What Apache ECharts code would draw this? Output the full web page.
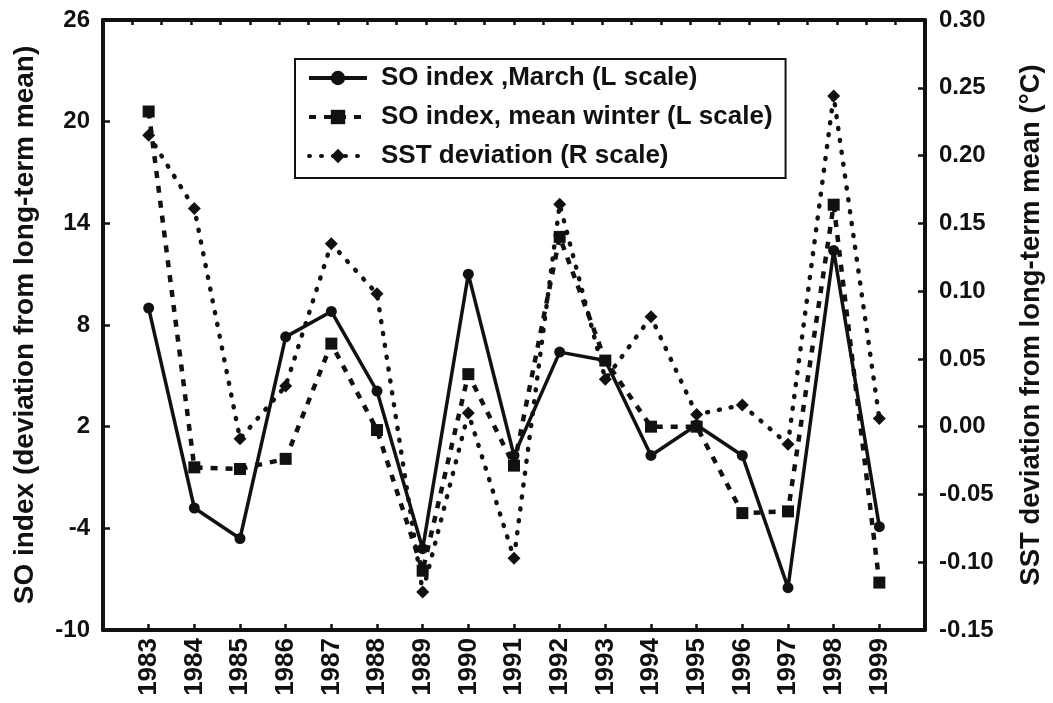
<!DOCTYPE html>
<html>
<head>
<meta charset="utf-8">
<script src="https://cdn.jsdelivr.net/npm/echarts@6/dist/echarts.min.js"></script>
<style>
  html, body { margin: 0; padding: 0; background: #fff; }
  #chart { width: 1053px; height: 703px; }
</style>
</head>
<body>
<div id="chart"></div>
<script>
// values
var years = [1983, 1984, 1985, 1986, 1987, 1988, 1989, 1990, 1991, 1992, 1993, 1994, 1995, 1996, 1997, 1998, 1999]
var soiMarch = [9.0, -2.8, -4.6, 7.3, 8.8, 4.1, -5.2, 11.0, 0.3, 6.4, 5.9, 0.3, 2.1, 0.3, -7.5, 12.4, -3.9]
var soiWinter = [20.6, -0.4, -0.5, 0.1, 6.9, 1.8, -6.5, 5.1, -0.3, 13.2, 5.9, 2.0, 2.0, -3.1, -3.0, 15.1, -7.2]
var sstDev = [0.215, 0.161, -0.009, 0.030, 0.135, 0.098, -0.122, 0.010, -0.097, 0.164, 0.035, 0.081, 0.009, 0.016, -0.013, 0.244, 0.006]

var ink = '#111'
var font = 'Liberation Sans, Arial, sans-serif'

function pairs (vals) {
  return years.map(function (y, i) { return [y, vals[i]] })
}

var chart = echarts.init(document.getElementById('chart'))

var option = {
  backgroundColor: '#fff',
  animation: false,
  textStyle: { fontFamily: font, color: ink },
  grid: { left: 103, right: 124, top: 20, bottom: 73 },
  legend: {
    orient: 'vertical',
    left: 295,
    top: 59,
    padding: [5, 13, 8, 12],
    itemGap: 11,
    itemWidth: 58,
    itemHeight: 18,
    borderColor: ink,
    borderWidth: 2,
    backgroundColor: '#fff',
    lineStyle: { width: 4 },
    textStyle: { fontSize: 26, fontWeight: 'bold', color: ink, lineHeight: 28, padding: [0, 0, 0, 9] },
    data: ['SO index ,March (L scale)', 'SO index, mean winter (L scale)', 'SST deviation (R scale)']
  },
  xAxis: [
    {
      type: 'value',
      min: 1982,
      max: 2000,
      interval: 1,
      splitLine: { show: false },
      axisLine: { onZero: false, lineStyle: { color: ink, width: 4 } },
      axisTick: { inside: true, length: 6, lineStyle: { color: ink, width: 2.5 } },
      axisLabel: {
        rotate: 90,
        margin: 8,
        fontSize: 26,
        fontWeight: 'bold',
        color: ink,
        formatter: function (v) { return (v < 1983 || v > 1999) ? '' : String(v) }
      }
    },
    {
      type: 'value',
      position: 'top',
      min: 0,
      max: 28,
      interval: 1,
      splitLine: { show: false },
      axisLine: { onZero: false, lineStyle: { color: ink, width: 4 } },
      axisTick: { inside: true, length: 5, lineStyle: { color: ink, width: 2.5 } },
      axisLabel: { show: false }
    }
  ],
  yAxis: [
    {
      type: 'value',
      min: -10,
      max: 26,
      interval: 6,
      name: 'SO index (deviation from long-term mean)',
      nameLocation: 'middle',
      nameRotate: 90,
      nameGap: 64,
      nameTextStyle: { fontSize: 28, fontWeight: 'bold', color: ink },
      splitLine: { show: false },
      axisLine: { show: true, onZero: false, lineStyle: { color: ink, width: 4 } },
      axisTick: { show: true, inside: true, length: 7, lineStyle: { color: ink, width: 2.5 } },
      axisLabel: { margin: 13, fontSize: 24, fontWeight: 'bold', color: ink }
    },
    {
      type: 'value',
      position: 'right',
      min: -0.15,
      max: 0.30,
      interval: 0.05,
      name: 'SST deviation from long-term mean (°C)',
      nameLocation: 'middle',
      nameRotate: 90,
      nameGap: 92,
      nameTextStyle: { fontSize: 27.5, fontWeight: 'bold', color: ink },
      splitLine: { show: false },
      axisLine: { show: true, onZero: false, lineStyle: { color: ink, width: 4 } },
      axisTick: { show: true, inside: true, length: 7, lineStyle: { color: ink, width: 2.5 } },
      axisLabel: {
        margin: 14,
        fontSize: 24,
        fontWeight: 'bold',
        color: ink,
        formatter: function (v) { return v.toFixed(2) }
      }
    }
  ],
  series: [
    {
      name: 'SO index ,March (L scale)',
      type: 'line',
      yAxisIndex: 0,
      data: pairs(soiMarch),
      symbol: 'circle',
      symbolSize: 11,
      itemStyle: { color: ink },
      lineStyle: { color: ink, width: 3.5, type: 'solid' }
    },
    {
      name: 'SO index, mean winter (L scale)',
      type: 'line',
      yAxisIndex: 0,
      data: pairs(soiWinter),
      symbol: 'rect',
      symbolSize: 12,
      itemStyle: { color: ink },
      lineStyle: { color: ink, width: 4.5, type: [7, 8] }
    },
    {
      name: 'SST deviation (R scale)',
      type: 'line',
      yAxisIndex: 1,
      data: pairs(sstDev),
      symbol: 'diamond',
      symbolSize: 13,
      itemStyle: { color: ink },
      lineStyle: { color: ink, width: 4.5, type: [1, 11], cap: 'round' }
    }
  ]
}

chart.setOption(option)
</script>
</body>
</html>
